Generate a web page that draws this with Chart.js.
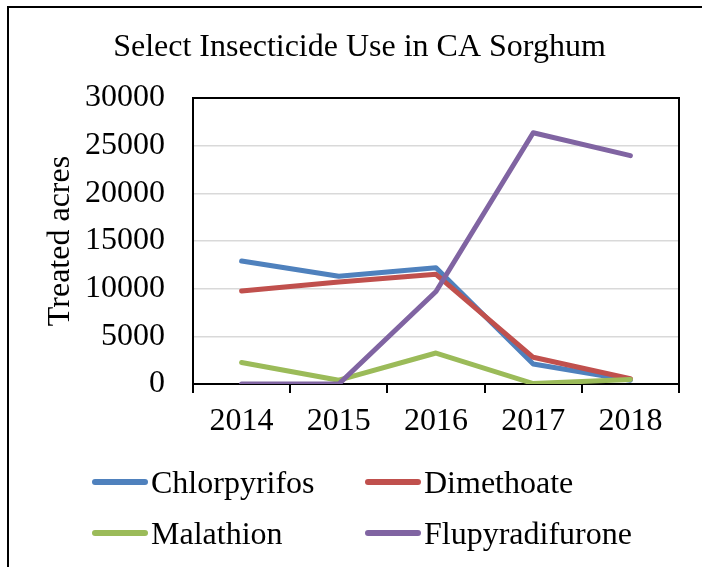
<!DOCTYPE html>
<html>
<head>
<meta charset="utf-8">
<script src="https://cdn.jsdelivr.net/npm/chart.js@4"></script>
<style>
  body { margin: 0; background: #fff; overflow: hidden; width: 702px; height: 567px; position: relative; }
  #frame { position: absolute; left: 7px; top: 6px; width: 800px; height: 700px; border: 2px solid #000; }
  #chart { position: absolute; left: 0; top: 0; }
  #legend {
    position: absolute; left: 92px; top: 462px;
    display: grid; grid-template-columns: 273px auto; grid-auto-rows: 51px;
    font-family: "Liberation Serif", "Times New Roman", serif; font-size: 32px; color: #000;
  }
  .item { display: flex; align-items: center; height: 40px; line-height: 40px; white-space: nowrap; }
  .swatch { width: 56px; height: 6px; border-radius: 3px; margin-right: 3px; }
</style>
</head>
<body>
<div id="frame"></div>
<canvas id="chart" width="702" height="567"></canvas>
<div id="legend"></div>
<script>
// Years on the x axis
var years = ['2014', '2015', '2016', '2017', '2018'];

// Treated acres per insecticide
var chlorpyrifos = [12900, 11300, 12200, 2100, 400];
var dimethoate = [9750, 10700, 11500, 2800, 550];
var malathion = [2250, 400, 3250, 50, 480];
var flupyradifurone = [0, 0, 9700, 26350, 23950];

// Y axis tick values
var yTickValues = [0, 5000, 10000, 15000, 20000, 25000, 30000];

var seriesNames = ['Chlorpyrifos', 'Dimethoate', 'Malathion', 'Flupyradifurone'];
var seriesColors = ['#4F81BD', '#C0504D', '#9BBB59', '#8064A2'];
var seriesData = [chlorpyrifos, dimethoate, malathion, flupyradifurone];

var serif = '"Liberation Serif", "Times New Roman", serif';
Chart.defaults.color = '#000';
Chart.defaults.font.family = serif;

var datasets = seriesNames.map(function (name, i) {
  return {
    label: name,
    data: seriesData[i],
    borderColor: seriesColors[i],
    backgroundColor: seriesColors[i],
    borderWidth: 5,
    pointRadius: 0,
    tension: 0,
    fill: false,
    borderCapStyle: 'round',
    borderJoinStyle: 'round',
    order: seriesNames.length - i // later series drawn on top, like Excel
  };
});

// Black box around the plot area
var plotFrame = {
  id: 'plotFrame',
  beforeDatasetsDraw: function (chart) {
    var a = chart.chartArea;
    var ctx = chart.ctx;
    ctx.save();
    ctx.strokeStyle = '#000';
    ctx.lineWidth = 2;
    ctx.strokeRect(a.left, a.top, a.right - a.left, a.bottom - a.top);
    ctx.restore();
  }
};

var chart = new Chart(document.getElementById('chart'), {
  type: 'line',
  data: { labels: years, datasets: datasets },
  plugins: [plotFrame],
  options: {
    responsive: false,
    animation: false,
    layout: { padding: { left: 40, right: 23, top: 0, bottom: 123 } },
    plugins: {
      legend: { display: false },
      tooltip: { enabled: false },
      title: {
        display: true,
        text: 'Select Insecticide Use in CA Sorghum',
        font: { size: 32, weight: 'normal', family: serif },
        color: '#000',
        padding: { top: 28, bottom: 31.6 }
      }
    },
    scales: {
      x: {
        offset: true,
        grid: { offset: true, drawOnChartArea: false, drawTicks: true, tickLength: 9, color: '#000', lineWidth: 2 },
        border: { display: true, color: '#000', width: 2 },
        ticks: { font: { size: 32 }, padding: 9, maxRotation: 0 },
        afterFit: function (scale) { scale.height = 60; }
      },
      y: {
        min: 0,
        max: 30000,
        grid: { color: '#D9D9D9', lineWidth: 1.5, drawTicks: false },
        border: { display: true, color: '#000', width: 2 },
        ticks: {
          font: { size: 32 },
          padding: 28,
          callback: function (value) { return String(value); }
        },
        afterBuildTicks: function (scale) {
          scale.ticks = yTickValues.map(function (v) { return { value: v }; });
        },
        title: {
          display: true,
          text: 'Treated acres',
          font: { size: 32, family: serif },
          color: '#000',
          padding: { top: 1, bottom: 0 }
        },
        afterFit: function (scale) { scale.width = 153; }
      }
    }
  }
});

// HTML legend in a 2x2 grid, built from the chart's datasets
var legendEl = document.getElementById('legend');
chart.data.datasets.forEach(function (ds) {
  var item = document.createElement('div');
  item.className = 'item';
  var sw = document.createElement('span');
  sw.className = 'swatch';
  sw.style.background = ds.borderColor;
  var txt = document.createElement('span');
  txt.textContent = ds.label;
  item.appendChild(sw);
  item.appendChild(txt);
  legendEl.appendChild(item);
});
</script>
</body>
</html>
